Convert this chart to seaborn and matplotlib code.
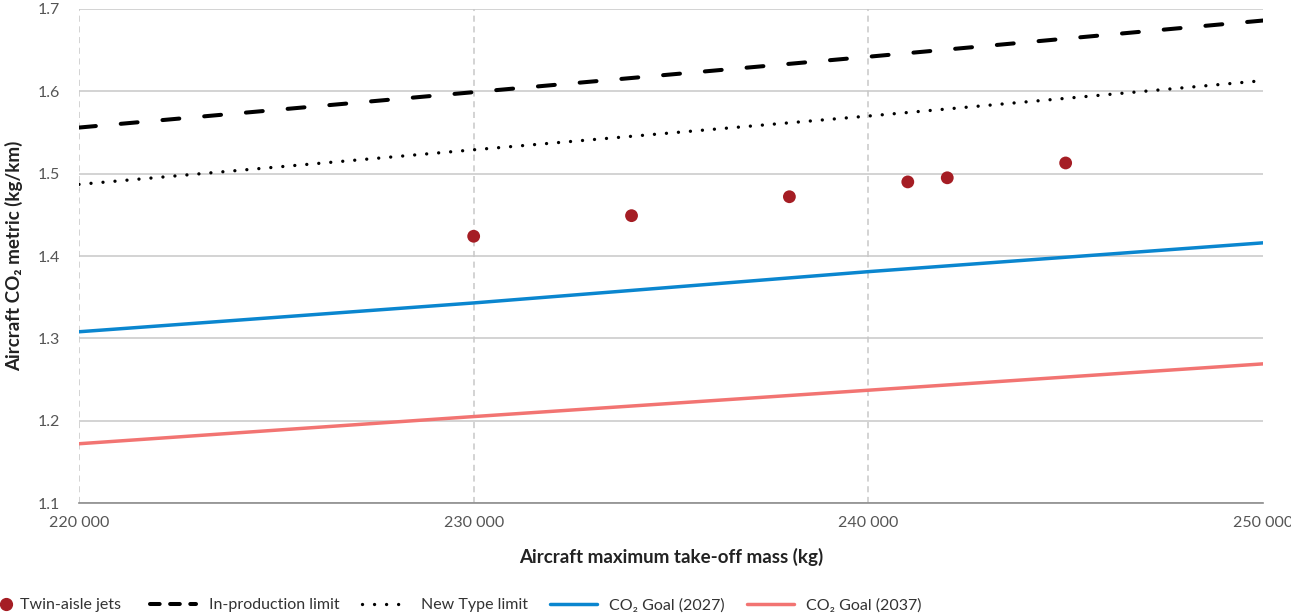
import seaborn as sns
import numpy as np
import pandas as pd
import matplotlib.pyplot as plt
from matplotlib.ticker import FuncFormatter
from matplotlib.lines import Line2D

# data
mass_line = [220000, 230000, 240000, 250000]
in_production = [1.556, 1.599, 1.642, 1.686]
new_type = [1.487, 1.529, 1.570, 1.613]
goal_2027 = [1.308, 1.343, 1.381, 1.416]
goal_2037 = [1.172, 1.205, 1.237, 1.269]

jets_mass = [230000, 234000, 238000, 241000, 242000, 245000]
jets_metric = [1.424, 1.449, 1.472, 1.490, 1.495, 1.513]

C_JETS = "#A51D24"
C_2027 = "#0A86CF"
C_2037 = "#F27472"

DASH = (0, (4.2, 6.2))
DOT = (0, (0.01, 3.6))

sns.set_style("white")
plt.rcParams['font.family'] = ['Lato', 'DejaVu Sans']

fig = plt.figure(figsize=(12.91, 6.16), dpi=100)
ax = fig.add_axes([0.0612, 0.1834, 0.9171, 0.802])

lines = pd.DataFrame({"mass": mass_line, "prod": in_production, "new": new_type,
                      "g27": goal_2027, "g37": goal_2037})

sns.lineplot(data=lines, x="mass", y="prod", ax=ax, color="black", lw=2.9,
             linestyle=DASH, dash_capstyle="round")
sns.lineplot(data=lines, x="mass", y="new", ax=ax, color="black", lw=2.4,
             linestyle=DOT, dash_capstyle="round")
sns.lineplot(data=lines, x="mass", y="g27", ax=ax, color=C_2027, lw=2.5)
sns.lineplot(data=lines, x="mass", y="g37", ax=ax, color=C_2037, lw=2.5)
sns.scatterplot(x=jets_mass, y=jets_metric, ax=ax, color=C_JETS, s=85,
                edgecolor="none", zorder=5)

ax.set_xlim(220000, 250000)
ax.set_ylim(1.1, 1.7)
ax.set_xticks([220000, 230000, 240000, 250000])
ax.set_yticks(np.arange(1.1, 1.71, 0.1))
ax.xaxis.set_major_formatter(FuncFormatter(lambda v, p: f"{int(v):,}".replace(",", " ")))
ax.yaxis.set_major_formatter(FuncFormatter(lambda v, p: f"{v:.1f}"))

ax.grid(axis="y", color="#c8c8c8", lw=1.1)
for xv in [220000, 230000, 240000]:
    ax.axvline(xv, color="#c8c8c8", lw=1.1, linestyle=(0, (4, 3)), zorder=0)
ax.set_axisbelow(True)

for s in ["top", "right", "left"]:
    ax.spines[s].set_visible(False)
ax.spines["bottom"].set_color("#8c8c8c")
ax.spines["bottom"].set_linewidth(1.2)

ax.tick_params(axis="both", length=0, labelsize=11.5, labelcolor="#555555")
ax.tick_params(axis="x", pad=9)
ax.tick_params(axis="y", pad=14)

ax.set_xlabel("Aircraft maximum take-off mass (kg)", fontsize=13.5,
              fontweight="bold", color="#222222", labelpad=13)
ax.set_ylabel("Aircraft CO₂ metric (kg/km)", fontsize=13.5,
              fontweight="bold", color="#222222", labelpad=10)

# legend: marker entry on its own so it sits tight at the left edge
fig.legend([Line2D([], [], marker="o", color=C_JETS, lw=0, markersize=8.5)],
           ["Twin-aisle jets"], loc="lower left",
           bbox_to_anchor=(0.0, 0.006), frameon=False, fontsize=11.5,
           handlelength=0.7, handletextpad=0.55, borderpad=0,
           borderaxespad=0, labelcolor="#333333")
handles = [
    Line2D([], [], color="black", lw=2.9, linestyle=(0, (2.4, 2.6)),
           dash_capstyle="round"),
    Line2D([], [], color="black", lw=2.4, linestyle=DOT, dash_capstyle="round"),
    Line2D([], [], color=C_2027, lw=2.5),
    Line2D([], [], color=C_2037, lw=2.5),
]
labels = ["In-production limit", "New Type limit",
          "CO₂ Goal (2027)", "CO₂ Goal (2037)"]
fig.legend(handles, labels, loc="lower left", bbox_to_anchor=(0.116, 0.006),
           ncol=4, frameon=False, fontsize=11.5, handlelength=2.9,
           handletextpad=0.8, columnspacing=1.4, borderpad=0, borderaxespad=0,
           labelcolor="#333333")

fig.savefig("out.png", dpi=100)
